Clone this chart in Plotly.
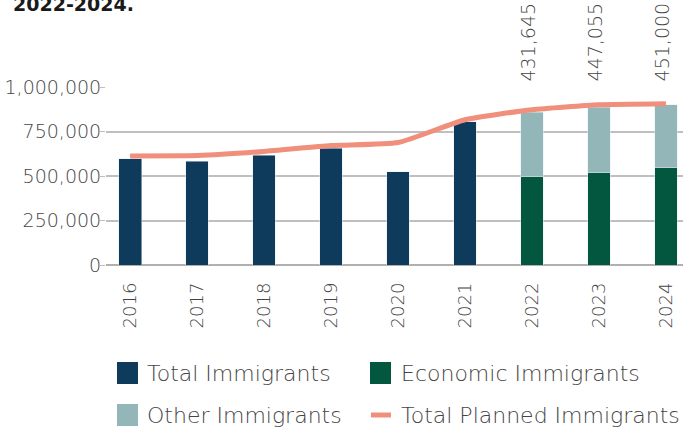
import plotly.graph_objects as go

years = ["2016", "2017", "2018", "2019", "2020", "2021", "2022", "2023", "2024"]
total_years = ["2016", "2017", "2018", "2019", "2020", "2021"]
total_immigrants = [596000, 584000, 618000, 655000, 524000, 805000]
plan_years = ["2022", "2023", "2024"]
economic_immigrants = [496000, 519000, 547000]
other_immigrants = [361000, 366000, 353000]
planned_total = [613000, 615000, 638000, 671000, 688000, 816000, 872000, 900000, 906000]
plan_labels = ["431,645", "447,055", "451,000"]
y_ticks = [0, 250000, 500000, 750000, 1000000]

names = ["Total Immigrants", "Economic Immigrants", "Other Immigrants", "Total Planned Immigrants"]
c_total = "#0E3A5C"
c_econ = "#03573F"
c_other = "#93B7B9"
c_line = "#F08F7B"

FONT = "DejaVu Sans"
TXT = "#444444"
WT = 300

W, H = 683, 427
L, R, T, B = 106, 0, 87, 162
pw, ph = W - L - R, H - T - B

def px(x):
    return (x - L) / pw

def py(y):
    return (H - B - y) / ph

fig = go.Figure()
fig.add_bar(x=total_years, y=total_immigrants, name=names[0], marker_color=c_total, width=0.34)
fig.add_bar(x=plan_years, y=economic_immigrants, name=names[1], marker_color=c_econ, width=0.34)
fig.add_bar(x=plan_years, y=other_immigrants, name=names[2], marker_color=c_other, width=0.34)
fig.add_scatter(x=years, y=planned_total, name=names[3], mode="lines",
                line=dict(color=c_line, width=5, shape="spline", smoothing=0.5))

for yr, lab in zip(plan_years, plan_labels):
    fig.add_annotation(x=years.index(yr), y=1, xref="x", yref="paper", text=lab, textangle=-90,
                       showarrow=False, yanchor="bottom", yshift=4, xshift=-4,
                       font=dict(family=FONT, size=19, color=TXT, weight=WT))

fig.add_annotation(x=px(11), y=py(17), xref="paper", yref="paper", text="<b>2022-2024.</b>",
                   showarrow=False, xanchor="left", yanchor="bottom",
                   font=dict(family=FONT, size=19, color="#1a1a1a"))

# manual legend
sq = [(117, 362, c_total), (370, 362, c_econ), (117, 404, c_other)]
for (x0, y0, c) in sq:
    fig.add_shape(type="rect", xref="paper", yref="paper", x0=px(x0), x1=px(x0 + 21),
                  y0=py(y0), y1=py(y0 + 22), fillcolor=c, line_width=0, layer="above")
fig.add_shape(type="line", xref="paper", yref="paper", x0=px(371), x1=px(391),
              y0=py(415), y1=py(415), line=dict(color=c_line, width=5))
leg_pos = [(145, 373), (399, 373), (145, 415), (399, 415)]
for nm, (lx, ly) in zip(names, leg_pos):
    fig.add_annotation(x=px(lx), y=py(ly), xref="paper", yref="paper", text=nm,
                       showarrow=False, xanchor="left", yanchor="middle",
                       font=dict(family=FONT, size=22, color=TXT, weight=WT))

fig.update_layout(
    width=W, height=H, margin=dict(l=L, r=R, t=T, b=B, pad=0),
    barmode="stack", showlegend=False, bargap=0.66,
    plot_bgcolor="white", paper_bgcolor="white",
    font=dict(family=FONT, color=TXT, size=18),
)
fig.update_xaxes(type="category", categoryorder="array", categoryarray=years,
                 range=[-0.36, 8.255], tickangle=-90, showgrid=False, ticks="",
                 tickfont=dict(family=FONT, size=18, color=TXT, weight=WT), showline=False,
                 ticklabelstandoff=13)
fig.update_yaxes(range=[0, 1000000], tickvals=y_ticks, tickformat=",", showgrid=True,
                 gridcolor="#bfbfbf", gridwidth=1.5, zeroline=True, zerolinecolor="#b0b0b0",
                 zerolinewidth=1.5, ticks="outside", ticklen=5, tickcolor="#bfbfbf",
                 tickfont=dict(family=FONT, size=19, color=TXT, weight=WT), ticklabelstandoff=-5)

fig.write_html("out.html")
